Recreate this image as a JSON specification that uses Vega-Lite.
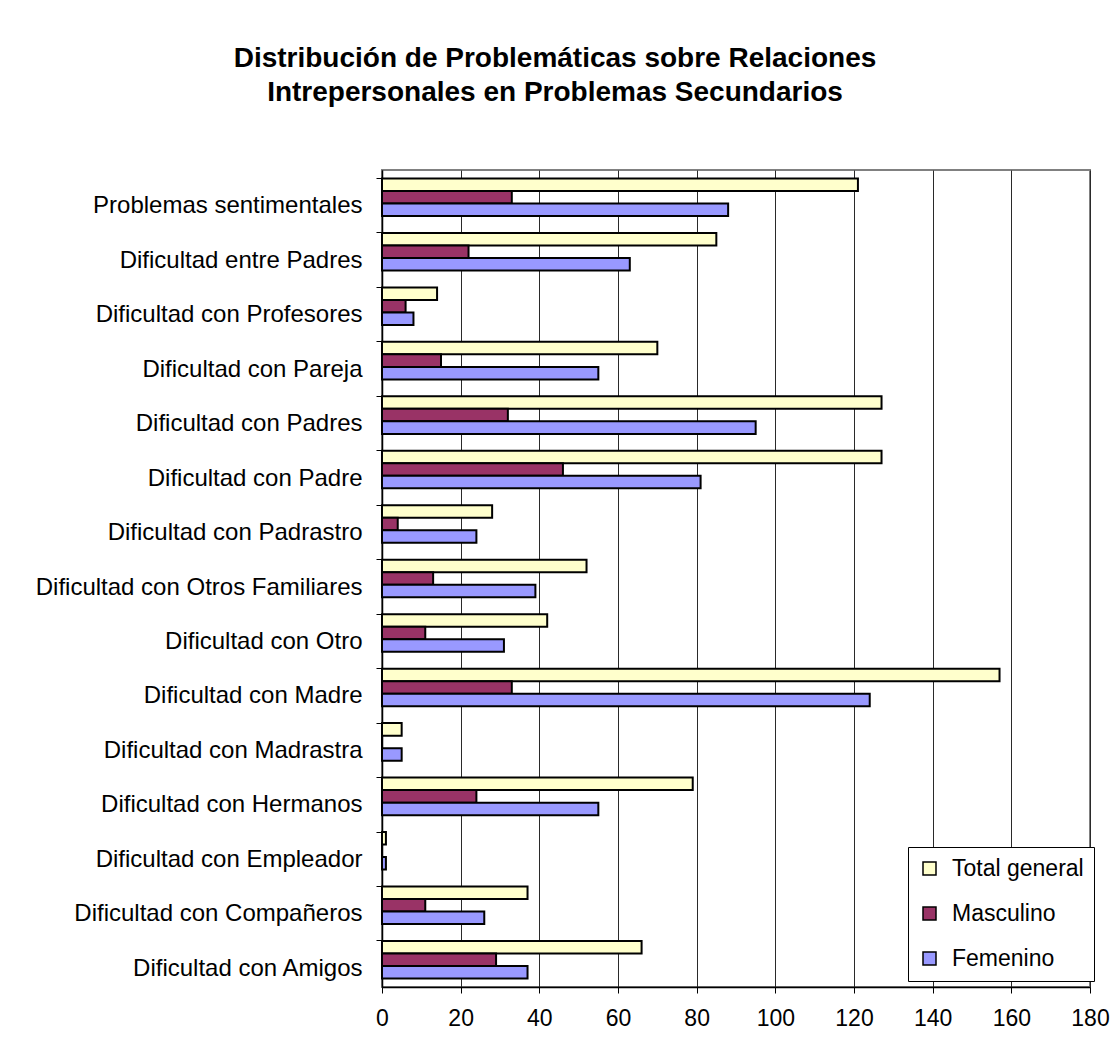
{
  "$schema": "https://vega.github.io/schema/vega-lite/v6.json",
  "width": 708,
  "height": 817,
  "autosize": {"type": "none"},
  "padding": {"left": 382, "top": 170, "right": 20, "bottom": 75},
  "background": "white",
  "title": {
    "text": ["Distribución de Problemáticas sobre Relaciones", "Intrepersonales en Problemas Secundarios"],
    "font": "Liberation Sans",
    "fontSize": 28,
    "fontWeight": "bold",
    "color": "black",
    "lineHeight": 34,
    "anchor": "middle",
    "frame": "group",
    "dx": -181,
    "offset": 63
  },
  "data": {
    "values": [
      {"cat": "Problemas sentimentales", "serie": "Total general", "v": 121},
      {"cat": "Problemas sentimentales", "serie": "Masculino", "v": 33},
      {"cat": "Problemas sentimentales", "serie": "Femenino", "v": 88},
      {"cat": "Dificultad entre Padres", "serie": "Total general", "v": 85},
      {"cat": "Dificultad entre Padres", "serie": "Masculino", "v": 22},
      {"cat": "Dificultad entre Padres", "serie": "Femenino", "v": 63},
      {"cat": "Dificultad con Profesores", "serie": "Total general", "v": 14},
      {"cat": "Dificultad con Profesores", "serie": "Masculino", "v": 6},
      {"cat": "Dificultad con Profesores", "serie": "Femenino", "v": 8},
      {"cat": "Dificultad con Pareja", "serie": "Total general", "v": 70},
      {"cat": "Dificultad con Pareja", "serie": "Masculino", "v": 15},
      {"cat": "Dificultad con Pareja", "serie": "Femenino", "v": 55},
      {"cat": "Dificultad con Padres", "serie": "Total general", "v": 127},
      {"cat": "Dificultad con Padres", "serie": "Masculino", "v": 32},
      {"cat": "Dificultad con Padres", "serie": "Femenino", "v": 95},
      {"cat": "Dificultad con Padre", "serie": "Total general", "v": 127},
      {"cat": "Dificultad con Padre", "serie": "Masculino", "v": 46},
      {"cat": "Dificultad con Padre", "serie": "Femenino", "v": 81},
      {"cat": "Dificultad con Padrastro", "serie": "Total general", "v": 28},
      {"cat": "Dificultad con Padrastro", "serie": "Masculino", "v": 4},
      {"cat": "Dificultad con Padrastro", "serie": "Femenino", "v": 24},
      {"cat": "Dificultad con Otros Familiares", "serie": "Total general", "v": 52},
      {"cat": "Dificultad con Otros Familiares", "serie": "Masculino", "v": 13},
      {"cat": "Dificultad con Otros Familiares", "serie": "Femenino", "v": 39},
      {"cat": "Dificultad con Otro", "serie": "Total general", "v": 42},
      {"cat": "Dificultad con Otro", "serie": "Masculino", "v": 11},
      {"cat": "Dificultad con Otro", "serie": "Femenino", "v": 31},
      {"cat": "Dificultad con Madre", "serie": "Total general", "v": 157},
      {"cat": "Dificultad con Madre", "serie": "Masculino", "v": 33},
      {"cat": "Dificultad con Madre", "serie": "Femenino", "v": 124},
      {"cat": "Dificultad con Madrastra", "serie": "Total general", "v": 5},
      {"cat": "Dificultad con Madrastra", "serie": "Masculino", "v": 0},
      {"cat": "Dificultad con Madrastra", "serie": "Femenino", "v": 5},
      {"cat": "Dificultad con Hermanos", "serie": "Total general", "v": 79},
      {"cat": "Dificultad con Hermanos", "serie": "Masculino", "v": 24},
      {"cat": "Dificultad con Hermanos", "serie": "Femenino", "v": 55},
      {"cat": "Dificultad con Empleador", "serie": "Total general", "v": 1},
      {"cat": "Dificultad con Empleador", "serie": "Masculino", "v": 0},
      {"cat": "Dificultad con Empleador", "serie": "Femenino", "v": 1},
      {"cat": "Dificultad con Compañeros", "serie": "Total general", "v": 37},
      {"cat": "Dificultad con Compañeros", "serie": "Masculino", "v": 11},
      {"cat": "Dificultad con Compañeros", "serie": "Femenino", "v": 26},
      {"cat": "Dificultad con Amigos", "serie": "Total general", "v": 66},
      {"cat": "Dificultad con Amigos", "serie": "Masculino", "v": 29},
      {"cat": "Dificultad con Amigos", "serie": "Femenino", "v": 37}
    ]
  },
  "mark": {"type": "bar", "stroke": "black", "strokeWidth": 2},
  "encoding": {
    "y": {
      "field": "cat",
      "type": "nominal",
      "sort": null,
      "title": null,
      "scale": {"paddingInner": 0.31, "paddingOuter": 0.155},
      "axis": {
        "bandPosition": 0,
        "labelOffset": 9,
        "labelFontSize": 24,
        "labelFont": "Liberation Sans",
        "labelColor": "black",
        "labelLimit": 500,
        "labelPadding": 14,
        "tickSize": 6,
        "tickColor": "black",
        "domainColor": "black",
        "grid": false
      }
    },
    "yOffset": {
      "field": "serie",
      "type": "nominal",
      "sort": ["Total general", "Masculino", "Femenino"],
      "scale": {"paddingInner": 0, "paddingOuter": 0}
    },
    "x": {
      "field": "v",
      "type": "quantitative",
      "title": null,
      "scale": {"domain": [0, 180], "nice": false},
      "axis": {
        "values": [0, 20, 40, 60, 80, 100, 120, 140, 160, 180],
        "labelFontSize": 23,
        "labelFont": "Liberation Sans",
        "labelColor": "black",
        "labelPadding": 14,
        "labelFlush": false,
        "tickSize": 6,
        "tickColor": "black",
        "domainColor": "black",
        "grid": true,
        "gridColor": "#2a2a2a",
        "gridWidth": 1
      }
    },
    "fill": {
      "field": "serie",
      "type": "nominal",
      "sort": ["Total general", "Masculino", "Femenino"],
      "scale": {"domain": ["Total general", "Masculino", "Femenino"], "range": ["#FFFFCC", "#993366", "#9999FF"]},
      "legend": {
        "orient": "none",
        "legendX": 526,
        "legendY": 677,
        "title": null,
        "symbolType": "square",
        "symbolSize": 169,
        "symbolStrokeColor": "black",
        "symbolStrokeWidth": 1.5,
        "labelFontSize": 23,
        "labelFont": "Liberation Sans",
        "labelColor": "black",
        "labelOffset": 11,
        "rowPadding": 21,
        "padding": 10,
        "strokeColor": "black",
        "fillColor": "white"
      }
    }
  },
  "config": {
    "view": {"stroke": "#808080", "strokeWidth": 2},
    "axis": {"domainWidth": 1.5}
  }
}
